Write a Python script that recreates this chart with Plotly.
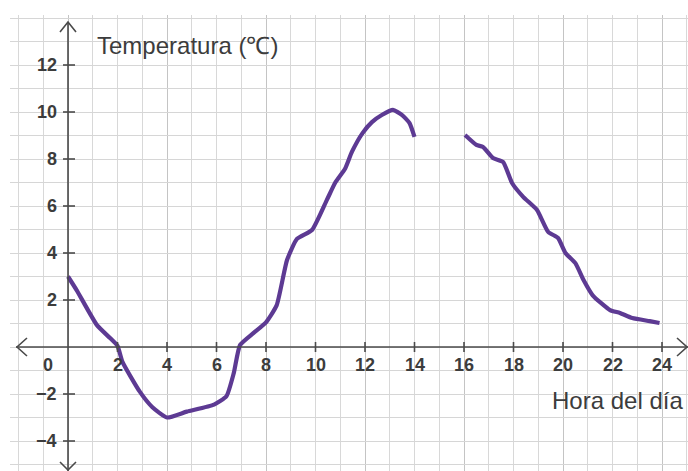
import plotly.graph_objects as go

# ---- data ----
hours_morning = [0, 0.36, 1.17, 1.7, 2.0, 2.2, 2.9, 3.4, 4.0, 4.8, 5.9, 6.4, 6.7, 6.95,
                 7.5, 8.0, 8.43, 8.85, 9.25, 9.86, 10.46, 10.8, 11.2, 11.47, 11.9,
                 12.28, 12.68, 13.13, 13.5, 13.8, 14.0]
temp_morning = [3.0, 2.4, 0.93, 0.38, 0.05, -0.63, -1.9, -2.55, -3.0, -2.75, -2.45, -2.1,
                -1.1, 0.08, 0.6, 1.05, 1.77, 3.7, 4.6, 4.98, 6.26, 7.0, 7.6, 8.3, 9.1,
                9.57, 9.87, 10.09, 9.87, 9.53, 8.94]
hours_evening = [16.04, 16.5, 16.77, 17.17, 17.58, 17.94, 18.4, 18.95, 19.4, 19.8, 20.1,
                 20.5, 20.83, 21.2, 21.9, 22.3, 22.8, 23.5, 23.9]
temp_evening = [9.02, 8.6, 8.51, 8.04, 7.87, 6.98, 6.38, 5.83, 4.9, 4.64, 4.0, 3.57,
                2.85, 2.2, 1.57, 1.45, 1.23, 1.1, 1.02]

x_ticks = [2, 4, 6, 8, 10, 12, 14, 16, 18, 20, 22, 24]
x_tick_labels = ["2", "4", "6", "8", "10", "12", "14", "16", "18", "20", "22", "24"]
y_ticks = [12, 10, 8, 6, 4, 2, -2, -4]
y_tick_labels = ["12", "10", "8", "6", "4", "2", "\u22122", "\u22124"]
origin_label = "0"
y_title = "Temperatura (\u2103)"
x_title = "Hora del día"

# ---- layout geometry (pixel scale: 24.75 px per hour, 23.5 px per degree) ----
PXH = 24.75
PXT = 23.5
X_RANGE = [(10 - 68) / PXH, (688 - 68) / PXH]
Y_RANGE = [(347 - 471) / PXT, (347 - 15) / PXT]

AXIS_COLOR = "#4a4a4a"
TEXT_COLOR = "#3c3c3c"
LINE_COLOR = "#5d3a93"

fig = go.Figure()
for hx, ty in ((hours_morning, temp_morning), (hours_evening, temp_evening)):
    fig.add_trace(go.Scatter(x=hx, y=ty, mode="lines",
                             line=dict(color=LINE_COLOR, width=4.2, shape="spline", smoothing=0.5),
                             hoverinfo="skip"))

shapes = []
axl = dict(color=AXIS_COLOR, width=1.6)
shapes.append(dict(type="line", xref="x", yref="y", x0=-52 / PXH, x1=X_RANGE[1], y0=0, y1=0, line=axl))
shapes.append(dict(type="line", xref="x", yref="y", x0=0, x1=0, y0=Y_RANGE[0], y1=325 / PXT, line=axl))


def chevron(tx, ty, dx1, dy1, dx2, dy2):
    return dict(type="path", xref="x", yref="y",
                path=f"M {tx+dx1},{ty+dy1} L {tx},{ty} L {tx+dx2},{ty+dy2}",
                line=axl)


shapes.append(chevron(-51 / PXH, 0, 10 / PXH, 9 / PXT, 10 / PXH, -9 / PXT))
shapes.append(chevron(619 / PXH, 0, -10 / PXH, 9 / PXT, -10 / PXH, -9 / PXT))
shapes.append(chevron(0, 325 / PXT, -8 / PXH, -10 / PXT, 8 / PXH, -10 / PXT))
shapes.append(chevron(0, -123 / PXT, -8 / PXH, 8 / PXT, 8 / PXH, 8 / PXT))
for xt in x_ticks:
    shapes.append(dict(type="line", xref="x", yref="y", x0=xt, x1=xt,
                       y0=-5 / PXT, y1=5 / PXT, line=axl))
for yt in y_ticks:
    shapes.append(dict(type="line", xref="x", yref="y", x0=-5 / PXH, x1=7 / PXH,
                       y0=yt, y1=yt, line=axl))

annotations = []
tick_font = dict(family="Liberation Sans, Arial, sans-serif", size=18, color=TEXT_COLOR)
for xt, lab in zip(x_ticks, x_tick_labels):
    annotations.append(dict(x=xt, y=-18 / PXT, xref="x", yref="y", text=f"<b>{lab}</b>",
                            showarrow=False, xanchor="center", yanchor="middle", font=tick_font))
annotations.append(dict(x=-20 / PXH, y=-18 / PXT, xref="x", yref="y", text=f"<b>{origin_label}</b>",
                        showarrow=False, xanchor="center", yanchor="middle", font=tick_font))
for yt, lab in zip(y_ticks, y_tick_labels):
    annotations.append(dict(x=-9 / PXH, y=yt, xref="x", yref="y", text=f"<b>{lab}</b>",
                            showarrow=False, xanchor="right", yanchor="middle", font=tick_font))
title_font = dict(family="Liberation Sans, Arial, sans-serif", size=24, color=TEXT_COLOR)
annotations.append(dict(x=27 / PXH, y=302 / PXT, xref="x", yref="y", text=y_title,
                        showarrow=False, xanchor="left", yanchor="middle", font=title_font))
annotations.append(dict(x=617 / PXH, y=-53 / PXT, xref="x", yref="y", text=x_title,
                        showarrow=False, xanchor="right", yanchor="middle", font=title_font))

fig.update_layout(
    width=688, height=471,
    margin=dict(l=10, r=0, t=15, b=0),
    paper_bgcolor="white", plot_bgcolor="white",
    showlegend=False,
    shapes=shapes, annotations=annotations,
    xaxis=dict(range=X_RANGE, tick0=0, dtick=4, showgrid=True, gridcolor="#c4c4c4", gridwidth=1,
               minor=dict(tick0=0, dtick=1, showgrid=True, gridcolor="#d8d8d8", gridwidth=1),
               showticklabels=False, ticks="", zeroline=False, showline=False, fixedrange=True),
    yaxis=dict(range=Y_RANGE, tick0=0, dtick=1, showgrid=True, gridcolor="#d6d6d6", gridwidth=1,
               showticklabels=False, ticks="", zeroline=False, showline=False, fixedrange=True),
)

fig.write_html("out.html", config={"displayModeBar": False},
               post_script="document.body.style.margin='0';document.body.style.overflow='hidden';")
